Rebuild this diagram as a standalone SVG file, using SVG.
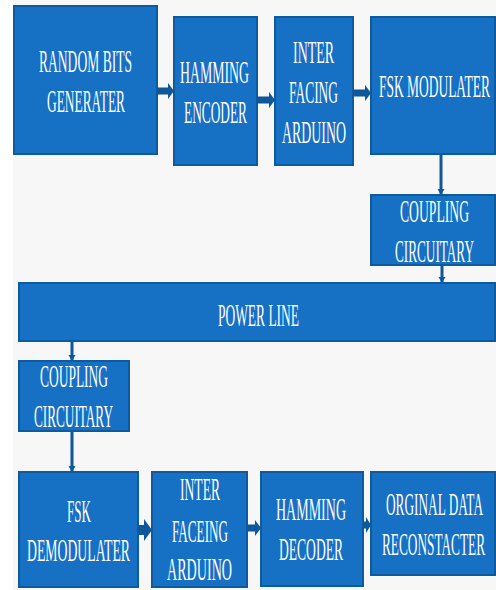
<svg xmlns="http://www.w3.org/2000/svg" width="496" height="590" viewBox="0 0 496 590">
<defs>
<style>
.box{fill:#1670c4;stroke:#0d5a9e;stroke-width:2}
.t{font-family:"Liberation Serif","Times New Roman",serif;font-size:32px;fill:#ffffff;text-anchor:middle}
.arr{fill:#0f5799}
.vl{stroke:#0f5799;stroke-width:3;fill:none;marker-end:url(#ah)}
</style>
<marker id="ah" markerUnits="userSpaceOnUse" markerWidth="7" markerHeight="8" refX="6" refY="4" orient="auto">
<path d="M0,0.5 L6,4 L0,7.5 Z" fill="#0f5799"/>
</marker>
</defs>
<rect x="0" y="0" width="496" height="590" fill="#ffffff"/>
<rect x="13" y="0" width="483" height="590" fill="#f7f7f7"/>

<g id="connectors">
<path class="arr" d="M157,87.5 H168 V83 L174,91 L168,99 V94.5 H157 Z"/>
<path class="arr" d="M257,96.5 H269 V92 L275,100 L269,108 V103.5 H257 Z"/>
<path class="arr" d="M353,89.5 H365 V85 L371,93 L365,101 V96.5 H353 Z"/>
<path class="arr" d="M138,525 H144 V519 L152,530 L144,541 V535 H138 Z"/>
<path class="arr" d="M247,524.5 H255 V520 L261,528 L255,536 V531.5 H247 Z"/>
<path class="arr" d="M363,521.5 H366 V517 L371,525 L366,533 V528.5 H363 Z"/>
<line class="vl" x1="441" y1="154" x2="441" y2="195"/>
<line class="vl" x1="442" y1="265" x2="442" y2="283"/>
<line class="vl" x1="72" y1="341" x2="72" y2="361"/>
<line class="vl" x1="72" y1="431" x2="72" y2="472"/>
</g>

<g id="random-bits">
<rect class="box" x="14" y="6" width="143" height="148"/>
<text class="t" transform="translate(85.5,72) scale(0.45,1)" textLength="206.7" lengthAdjust="spacingAndGlyphs">RANDOM BITS</text>
<text class="t" transform="translate(86,112) scale(0.45,1)" textLength="173.3" lengthAdjust="spacingAndGlyphs">GENERATER</text>
</g>
<g id="hamming-encoder">
<rect class="box" x="174" y="17" width="83" height="148"/>
<text class="t" transform="translate(214.5,83) scale(0.45,1)" textLength="153.3" lengthAdjust="spacingAndGlyphs">HAMMING</text>
<text class="t" transform="translate(215.5,123) scale(0.45,1)" textLength="140" lengthAdjust="spacingAndGlyphs">ENCODER</text>
</g>
<g id="interfacing-arduino-tx">
<rect class="box" x="275" y="17" width="78" height="148"/>
<text class="t" transform="translate(313.5,63) scale(0.45,1)" textLength="91.1" lengthAdjust="spacingAndGlyphs">INTER</text>
<text class="t" transform="translate(313.5,103) scale(0.45,1)" textLength="108.9" lengthAdjust="spacingAndGlyphs">FACING</text>
<text class="t" transform="translate(314,143) scale(0.45,1)" textLength="142.2" lengthAdjust="spacingAndGlyphs">ARDUINO</text>
</g>
<g id="fsk-modulater">
<rect class="box" x="371" y="17" width="124" height="137"/>
<text class="t" transform="translate(434.5,97) scale(0.41,1)" textLength="270.7" lengthAdjust="spacingAndGlyphs">FSK MODULATER</text>
</g>
<g id="coupling-tx">
<rect class="box" x="371" y="195" width="124" height="70"/>
<text class="t" transform="translate(434.5,222) scale(0.45,1)" textLength="153.3" lengthAdjust="spacingAndGlyphs">COUPLING</text>
<text class="t" transform="translate(434.5,262) scale(0.45,1)" textLength="175.6" lengthAdjust="spacingAndGlyphs">CIRCUITARY</text>
</g>
<g id="power-line">
<rect class="box" x="19" y="283" width="476" height="58"/>
<text class="t" transform="translate(258.5,326) scale(0.45,1)" textLength="180" lengthAdjust="spacingAndGlyphs">POWER LINE</text>
</g>
<g id="coupling-rx">
<rect class="box" x="19" y="361" width="110" height="70"/>
<text class="t" transform="translate(74,387) scale(0.45,1)" textLength="151.1" lengthAdjust="spacingAndGlyphs">COUPLING</text>
<text class="t" transform="translate(73.5,427) scale(0.45,1)" textLength="175.6" lengthAdjust="spacingAndGlyphs">CIRCUITARY</text>
</g>
<g id="fsk-demodulater">
<rect class="box" x="19" y="472" width="119" height="115"/>
<text class="t" transform="translate(79,522) scale(0.45,1)" textLength="53.3" lengthAdjust="spacingAndGlyphs">FSK</text>
<text class="t" transform="translate(78.5,561) scale(0.45,1)" textLength="228.9" lengthAdjust="spacingAndGlyphs">DEMODULATER</text>
</g>
<g id="interfacing-arduino-rx">
<rect class="box" x="152" y="472" width="95" height="115"/>
<text class="t" transform="translate(200,500) scale(0.45,1)" textLength="88.9" lengthAdjust="spacingAndGlyphs">INTER</text>
<text class="t" transform="translate(200,542) scale(0.45,1)" textLength="124.4" lengthAdjust="spacingAndGlyphs">FACEING</text>
<text class="t" transform="translate(199.5,580) scale(0.45,1)" textLength="144.4" lengthAdjust="spacingAndGlyphs">ARDUINO</text>
</g>
<g id="hamming-decoder">
<rect class="box" x="261" y="472" width="102" height="114"/>
<text class="t" transform="translate(311,520) scale(0.45,1)" textLength="155.6" lengthAdjust="spacingAndGlyphs">HAMMING</text>
<text class="t" transform="translate(311,560) scale(0.45,1)" textLength="142.2" lengthAdjust="spacingAndGlyphs">DECODER</text>
</g>
<g id="original-data">
<rect class="box" x="371" y="472" width="124" height="103"/>
<text class="t" transform="translate(434.5,515) scale(0.45,1)" textLength="215.6" lengthAdjust="spacingAndGlyphs">ORGINAL DATA</text>
<text class="t" transform="translate(433.5,555) scale(0.45,1)" textLength="228.9" lengthAdjust="spacingAndGlyphs">RECONSTACTER</text>
</g>
</svg>
